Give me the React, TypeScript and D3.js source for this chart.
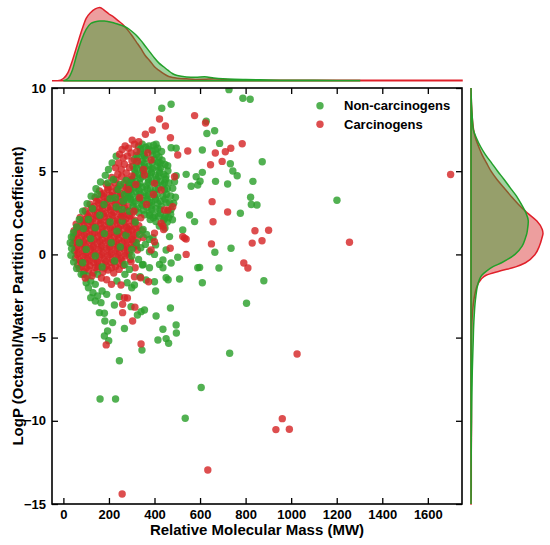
import { useRef, useEffect } from 'react'
import * as d3 from 'd3'

type Point = [number, number] // [MW, LogP]

const xTicks = [0, 200, 400, 600, 800, 1000, 1200, 1400, 1600]
const yTicks = [-15, -10, -5, 0, 5, 10]
const seriesNames = ['Non-carcinogens', 'Carcinogens']

// green: outliers, upper mass, core mix, lower-left group
const nonCarcinogens: Point[] = [
  [727, 9.9], [788, 9.38], [820, 9.32], [432, 8.78], [473, 9.02], [627, 8.0], [664, 7.43], [630, 7.27],
  [686, 6.67], [610, 6.27], [407, 6.62], [495, 6.38], [473, 6.41], [873, 5.57], [733, 5.45], [458, 5.33],
  [744, 5.01], [610, 4.93], [539, 4.81], [763, 4.73], [583, 4.67], [495, 4.73], [668, 4.39], [832, 4.39],
  [600, 4.4], [488, 4.37], [721, 4.23], [590, 4.17], [561, 4.1], [480, 3.97], [822, 3.43], [492, 3.43],
  [1201, 3.25], [484, 3.07], [825, 3.0], [850, 2.97], [777, 2.47], [554, 2.37], [444, 2.17], [576, 1.97],
  [524, 1.47], [466, 1.07], [736, 0.37], [451, 0.26], [665, 0.13], [598, -0.78], [590, -0.8], [683, -0.82],
  [451, -1.4], [460, -1.52], [510, -1.48], [880, -1.58], [610, -1.7], [400, -1.64], [405, -2.2], [804, -2.94],
  [470, -3.22], [407, -3.7], [495, -4.24], [496, -4.72], [437, -4.5], [451, -5.06], [415, -5.14], [462, -5.34],
  [345, -5.75], [730, -5.94], [605, -8.0], [535, -9.85], [268, -4.45], [194, -4.6], [180, -4.9], [199, -5.19],
  [246, -6.39], [161, -8.69], [229, -8.69], [182, -4.0],
  [330, 6.5], [346, 6.62], [361, 6.44], [376, 6.52], [396, 6.56], [414, 6.38],
  [338, 6.2], [353, 6.02], [389, 6.22], [409, 6.0], [431, 6.18], [340, 6.34], [372, 6.3], [404, 6.28],
  [322, 5.95], [356, 5.92], [392, 5.96], [420, 5.86],
  [311, 5.72], [328, 5.82], [346, 5.6], [362, 5.76], [399, 5.7], [416, 5.54], [433, 5.66],
  [320, 5.5], [355, 5.46], [390, 5.52], [425, 5.48],
  [305, 5.3], [323, 5.18], [340, 5.36], [357, 5.24], [375, 5.32], [392, 5.14], [411, 5.3], [428, 5.2], [446, 5.4],
  [312, 5.1], [348, 5.06], [384, 5.12], [420, 5.08],
  [316, 4.9], [333, 4.78], [350, 4.96], [368, 4.84], [387, 4.92], [404, 4.74], [423, 4.9], [441, 4.8], [459, 5.02],
  [310, 4.7], [346, 4.66], [382, 4.72], [418, 4.68], [450, 4.7],
  [301, 4.5], [319, 4.38], [337, 4.56], [373, 4.52], [391, 4.34], [409, 4.5], [427, 4.4], [449, 4.52], [463, 4.3],
  [300, 4.3], [336, 4.26], [372, 4.32], [408, 4.28], [444, 4.3],
  [291, 4.1], [309, 3.98], [327, 4.16], [345, 4.04], [363, 4.12], [381, 3.94], [417, 3.98], [436, 4.16], [456, 3.94],
  [296, 3.9], [332, 3.86], [368, 3.92], [404, 3.88], [444, 3.9],
  [283, 3.7], [301, 3.58], [319, 3.76], [337, 3.64], [355, 3.72], [373, 3.54], [393, 3.7], [411, 3.6], [453, 3.6], [471, 3.52],
  [292, 3.5], [328, 3.46], [364, 3.52], [400, 3.48], [438, 3.5],
  [296, 3.3], [314, 3.18], [332, 3.36], [350, 3.24], [368, 3.32], [387, 3.14], [405, 3.3], [425, 3.2], [446, 3.32], [467, 3.1],
  [306, 3.1], [342, 3.06], [378, 3.12], [414, 3.08], [452, 3.1],
  [306, 2.9], [326, 2.78], [346, 2.96], [366, 2.84], [386, 2.92], [406, 2.74], [429, 2.9], [473, 2.7],
  [316, 2.7], [352, 2.66], [388, 2.72], [424, 2.68], [458, 2.6],
  [331, 2.5], [356, 2.38], [379, 2.5], [401, 2.34], [426, 2.46], [448, 2.3], [471, 2.42],
  [381, 2.1], [406, 1.98], [456, 1.94], [479, 2.08], [421, 1.7], [446, 1.58],
  [85, 2.6], [104, 3.05], [122, 3.5], [143, 3.95], [163, 4.35], [184, 4.75], [70, 2.1], [58, 1.65],
  [44, 1.3], [35, 1.05], [30, 0.7], [36, 0.35], [33, -0.05], [45, -0.45], [58, -0.85], [78, -1.2],
  [150, 3.6], [205, 3.35], [178, 3.0], [128, 2.75], [232, 2.85], [160, 2.35], [110, 2.1], [205, 1.95],
  [258, 2.0], [88, 1.55], [140, 1.6], [180, 1.25], [235, 1.4], [120, 0.95], [275, 1.15], [70, 0.7],
  [210, 0.7], [100, 0.3], [250, 0.45], [140, -0.1], [300, 0.3], [85, -0.5],
  [225, -0.4], [170, -0.75], [270, -0.6], [300, -0.1], [320, 0.7], [335, 1.2], [316, 1.95],
  [290, 2.6], [262, 3.2], [240, 3.9], [220, 4.5], [198, 5.1], [214, 5.5], [232, 5.9], [290, 3.95], [275, 4.45],
  [250, 4.2], [268, 3.6], [228, 3.4], [195, 4.3], [258, 2.7], [280, 3.3],
  [378, 2.35], [395, 2.2], [418, 2.3], [440, 2.05], [462, 2.2], [350, 1.5], [365, 1.2], [393, 1.0],
  [378, 0.9], [405, 0.57], [360, 0.6], [340, 0.4], [378, 0.16], [330, -0.3], [350, -0.6], [378, -0.8],
  [422, -0.6], [437, -0.8], [437, -0.34], [473, -0.52], [502, -0.17], [400, 0.0], [337, -1.34], [363, -1.54],
  [347, -0.64], [290, -0.9], [312, -1.84], [270, -1.2],
  [105, -1.3], [120, -1.6], [140, -1.8], [110, -2.0], [130, -2.3], [150, -2.5], [170, -2.2], [190, -2.4],
  [120, -2.6], [140, -2.8], [165, -2.9], [100, -1.7], [88, -1.2], [150, -1.2], [235, -1.6], [280, -1.7],
  [300, -2.0], [246, -2.54], [224, -3.04], [297, -3.14], [158, -3.5], [180, -3.54], [216, -4.1], [325, -3.64],
  [341, -3.44], [356, -3.34],
]

// red, dense core rows (drawn under the green points)
const carcinogensCore: Point[] = [
  [212, 4.62], [231, 4.48], [256, 4.68], [279, 4.52], [296, 4.4],
  [188, 4.22], [206, 4.08], [226, 4.3], [247, 4.12], [266, 4.28], [287, 4.18],
  [196, 4.0], [236, 3.98], [276, 4.02],
  [158, 3.82], [177, 3.68], [195, 3.9], [215, 3.74], [233, 3.88], [252, 3.66], [271, 3.84],
  [168, 3.6], [204, 3.56], [240, 3.62], [276, 3.58],
  [139, 3.42], [157, 3.28], [177, 3.48], [193, 3.32], [213, 3.52], [229, 3.28], [249, 3.46], [267, 3.3], [285, 3.44],
  [146, 3.2], [182, 3.16], [218, 3.22], [254, 3.18],
  [117, 3.02], [135, 2.88], [155, 3.08], [171, 2.92], [191, 3.12], [207, 2.86], [227, 3.06], [245, 2.92], [263, 3.1], [283, 2.88],
  [124, 2.8], [160, 2.76], [196, 2.82], [232, 2.78], [268, 2.8],
  [96, 2.62], [114, 2.48], [134, 2.68], [150, 2.52], [170, 2.72], [186, 2.48], [206, 2.66], [222, 2.52], [242, 2.72],
  [258, 2.48], [279, 2.62], [301, 2.46],
  [104, 2.4], [140, 2.36], [176, 2.42], [212, 2.38], [248, 2.4], [284, 2.36],
  [74, 2.22], [93, 2.08], [109, 2.26], [129, 2.12], [145, 2.3], [165, 2.08], [181, 2.26], [201, 2.12], [217, 2.32],
  [237, 2.08], [253, 2.26], [273, 2.12], [291, 2.3], [313, 2.06],
  [84, 2.0], [120, 1.96], [156, 2.02], [192, 1.98], [228, 2.0], [264, 1.96], [300, 2.02],
  [56, 1.82], [71, 1.68], [91, 1.86], [107, 1.72], [127, 1.92], [143, 1.68], [163, 1.86], [179, 1.72], [199, 1.92],
  [215, 1.68], [235, 1.86], [251, 1.72], [271, 1.9], [289, 1.68], [311, 1.86], [331, 1.72],
  [62, 1.6], [98, 1.56], [134, 1.62], [170, 1.58], [206, 1.6], [242, 1.56], [278, 1.62], [318, 1.58],
  [47, 1.42], [66, 1.28], [81, 1.46], [101, 1.32], [117, 1.52], [137, 1.28], [153, 1.46], [173, 1.32], [189, 1.52],
  [209, 1.28], [225, 1.46], [245, 1.32], [261, 1.52], [283, 1.28], [301, 1.46], [323, 1.32], [346, 1.42],
  [56, 1.2], [92, 1.16], [128, 1.22], [164, 1.18], [200, 1.2], [236, 1.16], [272, 1.22], [310, 1.18],
  [44, 1.02], [63, 0.88], [79, 1.06], [99, 0.92], [115, 1.12], [135, 0.88], [151, 1.06], [171, 0.92], [187, 1.12],
  [207, 0.88], [223, 1.06], [243, 0.92], [259, 1.12], [281, 0.88], [299, 1.06], [326, 0.92], [351, 1.02],
  [52, 0.8], [88, 0.76], [124, 0.82], [160, 0.78], [196, 0.8], [232, 0.76], [268, 0.82], [308, 0.78],
  [41, 0.62], [61, 0.48], [77, 0.66], [97, 0.52], [113, 0.72], [133, 0.48], [149, 0.66], [169, 0.52], [185, 0.72],
  [205, 0.48], [221, 0.66], [241, 0.52], [257, 0.72], [279, 0.48], [297, 0.62], [321, 0.52],
  [56, 0.4], [92, 0.36], [128, 0.42], [164, 0.38], [200, 0.4], [236, 0.36], [272, 0.42], [306, 0.4],
  [49, 0.22], [67, 0.08], [83, 0.26], [103, 0.12], [119, 0.32], [139, 0.08], [155, 0.26], [175, 0.12], [191, 0.32],
  [211, 0.08], [227, 0.26], [247, 0.12], [265, 0.32], [289, 0.08], [325, 0.26],
  [60, 0.0], [96, -0.04], [132, 0.02], [168, -0.02], [204, 0.0], [240, -0.04], [278, 0.02],
  [53, -0.22], [71, -0.32], [87, -0.12], [107, -0.26], [123, -0.08], [143, -0.32], [159, -0.14], [179, -0.28],
  [195, -0.08], [215, -0.32], [231, -0.14], [253, -0.26], [271, -0.08], [293, -0.3],
  [78, -0.44], [114, -0.4], [150, -0.46], [186, -0.42], [222, -0.44], [258, -0.4],
  [63, -0.62], [81, -0.72], [97, -0.52], [117, -0.68], [133, -0.48], [153, -0.72], [169, -0.54], [189, -0.68],
  [207, -0.48], [229, -0.72], [246, -0.52], [263, -0.66],
  [100, -0.8], [140, -0.78], [180, -0.82], [212, -0.8],
  [70, -0.84], [91, -1.06], [111, -0.94], [131, -1.12], [149, -0.88], [173, -1.06], [196, -0.94], [221, -1.12],
  [245, -0.9], [297, -0.44], [315, -0.8], [312, -1.34],
]

// red, upper cluster and scattered points (drawn over the green points)
const carcinogensSpread: Point[] = [
  [96, -1.42], [126, -1.28], [167, -1.42], [190, -1.52], [211, -1.8], [253, -1.84], [339, -1.4], [374, -1.64],
  [268, -2.6], [281, -2.62], [260, -3.0], [260, -3.5], [304, -4.0], [314, -3.17], [188, -5.44], [341, -5.38],
  [258, 6.3], [271, 6.52], [286, 6.38], [297, 6.1], [247, 6.02], [262, 5.8], [281, 5.92], [301, 5.62],
  [243, 5.5], [268, 5.42], [290, 5.22], [254, 5.1], [276, 4.9], [239, 4.82], [301, 4.72], [229, 5.2],
  [312, 6.62], [322, 6.18], [302, 6.87], [331, 6.77], [360, 7.22], [390, 7.48], [470, 7.01], [422, 8.14],
  [448, 7.72], [576, 8.34], [502, 5.97], [546, 6.21],
  [370, 6.1], [385, 5.67], [356, 4.77], [400, 4.27], [429, 3.87], [444, 2.67], [429, 1.87], [400, 1.28],
  [488, 4.67], [480, 2.87], [459, 2.67], [437, 1.7], [440, 1.5], [524, 1.07], [539, 0.92], [469, 0.37],
  [539, 0.0], [532, 0.98], [385, 0.26], [400, 0.76],
  [318, 4.2], [335, 3.4], [352, 5.1], [310, 2.6], [365, 3.0], [340, 2.2], [325, 5.6], [395, 3.6],
  [288, 1.5], [300, 0.9], [262, 2.3], [285, 3.9],
  [624, 7.9], [785, 6.65], [735, 6.38], [711, 6.17], [667, 6.09], [697, 5.59], [646, 5.39], [653, 3.17],
  [721, 2.55], [657, 1.96], [650, 0.63], [841, 1.42], [901, 1.45], [829, 0.68], [872, 0.82], [1256, 0.73],
  [792, -0.52], [810, -0.82], [1026, -5.99], [961, -9.87], [933, -10.53], [992, -10.51], [1700, 4.8],
  [634, -12.96], [258, -14.4],
]

// marginal densities, relative to the carcinogen peak (null = outside the estimate's support)
const mwGrid = [-50, -25, 0, 20, 40, 60, 80, 100, 120, 140, 160, 180, 200, 220, 240, 260, 280, 300, 320, 340,
  360, 380, 400, 420, 440, 460, 480, 500, 540, 580, 620, 660, 700, 750, 800, 900, 1000, 1100, 1200, 1300,
  1400, 1500, 1600, 1750]
const mwDensityCarc = [0, 0, 0.03, 0.11, 0.28, 0.48, 0.68, 0.85, 0.93, 0.98, 1.0, 0.96, 0.91, 0.87, 0.82, 0.77,
  0.7, 0.62, 0.53, 0.44, 0.34, 0.27, 0.19, 0.14, 0.095, 0.06, 0.045, 0.035, 0.025, 0.018, 0.02, 0.027, 0.018,
  0.01, 0.008, 0.007, 0.006, 0.005, 0.005, 0.005, 0.005, 0.005, 0.005, 0.005]
const mwDensityNon = [null, null, 0, 0.03, 0.15, 0.37, 0.56, 0.7, 0.78, 0.805, 0.815, 0.815, 0.805, 0.79, 0.77, 0.75,
  0.72, 0.675, 0.62, 0.55, 0.47, 0.39, 0.31, 0.24, 0.19, 0.14, 0.095, 0.07, 0.052, 0.048, 0.053, 0.038, 0.027,
  0.019, 0.015, 0.01, 0.006, 0.005, 0.004, 0.002, null, null, null, null]

const logpGrid = [-15, -14, -13, -12, -11, -10, -9, -8, -7, -6, -5, -4.5, -4, -3.5, -3, -2.5, -2, -1.5, -1.25, -1,
  -0.75, -0.5, 0, 0.5, 1, 1.25, 1.5, 2, 2.5, 3, 3.5, 4, 4.5, 5, 5.5, 6, 6.5, 7, 7.5, 8, 8.5, 9, 9.5, 10]
const logpDensityCarc = [0.001, 0.004, 0.004, 0.004, 0.006, 0.007, 0.006, 0.004, 0.006, 0.007, 0.008, 0.011,
  0.014, 0.021, 0.032, 0.049, 0.076, 0.139, 0.21, 0.4, 0.62, 0.757, 0.889, 0.95, 0.986, 1.0, 0.99, 0.915, 0.78,
  0.66, 0.556, 0.458, 0.361, 0.278, 0.215, 0.153, 0.104, 0.062, 0.036, 0.022, 0.014, 0.007, 0.003, 0]
const logpDensityNon = [0, 0.001, 0.001, 0.003, 0.004, 0.007, 0.01, 0.014, 0.018, 0.025, 0.032, 0.035, 0.04,
  0.047, 0.055, 0.068, 0.085, 0.118, 0.15, 0.215, 0.3, 0.425, 0.611, 0.71, 0.757, 0.775, 0.785, 0.796, 0.762,
  0.7, 0.632, 0.545, 0.46, 0.37, 0.285, 0.2, 0.13, 0.075, 0.032, 0.021, 0.014, 0.007, 0.003, 0]

const GREEN = '#2ca02c'
const RED = '#d62728'
const FONT = '"Liberation Sans", Arial, Helvetica, sans-serif'

const App = () => {
  const ref = useRef<SVGSVGElement>(null)

  useEffect(() => {
    if (!ref.current) return
    const svg = d3.select(ref.current)
    svg.selectAll('*').remove()

    const frame = { left: 52, right: 462, top: 88, bottom: 504 }
    const x = d3.scaleLinear().domain([-50, 1750]).range([frame.left, frame.right])
    const y = d3.scaleLinear().domain([-15, 10]).range([frame.bottom, frame.top])
    const topDens = d3.scaleLinear().domain([0, 1]).range([80.7, 7.4])
    const sideDens = d3.scaleLinear().domain([0, 1]).range([471, 543])

    const topArea = d3
      .area<number | null>()
      .defined(d => d !== null)
      .x((_, i) => x(mwGrid[i]))
      .y0(topDens(0))
      .y1(d => topDens(d as number))
      .curve(d3.curveMonotoneX)
    const sideArea = d3
      .area<number>()
      .y((_, i) => y(logpGrid[i]))
      .x0(sideDens(0))
      .x1(d => sideDens(d))
      .curve(d3.curveMonotoneY)

    // carcinogens underneath, non-carcinogens on top (gives the olive overlap)
    const kdes = [
      { top: mwDensityCarc, side: logpDensityCarc, fill: RED, line: '#e0202a' },
      { top: mwDensityNon, side: logpDensityNon, fill: GREEN, line: '#22a02a' },
    ]
    kdes.forEach(k => {
      svg.append('path').attr('d', topArea(k.top)).attr('fill', k.fill).attr('fill-opacity', 0.45)
        .attr('stroke', k.line).attr('stroke-width', 1.5)
      svg.append('path').attr('d', sideArea(k.side)).attr('fill', k.fill).attr('fill-opacity', 0.45)
        .attr('stroke', k.line).attr('stroke-width', 1.5)
    })

    svg.append('defs').append('clipPath').attr('id', 'plot-clip').append('rect')
      .attr('x', frame.left).attr('y', frame.top)
      .attr('width', frame.right - frame.left).attr('height', frame.bottom - frame.top)

    const dots = svg.append('g').attr('clip-path', 'url(#plot-clip)')
    const layers = [
      { data: carcinogensCore, color: RED },
      { data: nonCarcinogens, color: GREEN },
      { data: carcinogensSpread, color: RED },
    ]
    layers.forEach(s => {
      dots.append('g').selectAll('circle')
        .data(s.data)
        .enter()
        .append('circle')
        .attr('cx', d => x(d[0]))
        .attr('cy', d => y(d[1]))
        .attr('r', 3.7)
        .attr('fill', s.color)
        .attr('fill-opacity', 0.82)
    })

    const styleAxis = (g: d3.Selection<SVGGElement, unknown, null, undefined>) => {
      g.select('.domain').remove()
      g.attr('font-family', FONT).attr('font-size', 13).attr('font-weight', 'bold')
      g.selectAll('text').attr('fill', '#000')
      g.selectAll('line').attr('stroke', '#000').attr('stroke-width', 1.3)
    }

    svg.append('g').attr('transform', `translate(0,${frame.bottom})`)
      .call(d3.axisBottom(x).tickValues(xTicks).tickFormat(d3.format('d')).tickSizeInner(-6).tickSizeOuter(0).tickPadding(6))
      .call(styleAxis)
    svg.append('g').attr('transform', `translate(0,${frame.top})`)
      .call(d3.axisTop(x).tickValues(xTicks).tickSizeInner(-6).tickSizeOuter(0).tickFormat(() => ''))
      .call(styleAxis)
    svg.append('g').attr('transform', `translate(${frame.left},0)`)
      .call(d3.axisLeft(y).tickValues(yTicks).tickSizeInner(-6).tickSizeOuter(0).tickPadding(6))
      .call(styleAxis)
    svg.append('g').attr('transform', `translate(${frame.right},0)`)
      .call(d3.axisRight(y).tickValues(yTicks).tickSizeInner(-6).tickSizeOuter(0).tickFormat(() => ''))
      .call(styleAxis)

    svg.append('rect')
      .attr('x', frame.left).attr('y', frame.top)
      .attr('width', frame.right - frame.left).attr('height', frame.bottom - frame.top)
      .attr('fill', 'none').attr('stroke', '#000').attr('stroke-width', 1.6)

    svg.append('text')
      .attr('x', (frame.left + frame.right) / 2).attr('y', 535)
      .attr('text-anchor', 'middle')
      .attr('font-family', FONT).attr('font-size', 15).attr('font-weight', 'bold')
      .text('Relative Molecular Mass (MW)')
    svg.append('text')
      .attr('transform', `translate(23,${(frame.top + frame.bottom) / 2}) rotate(-90)`)
      .attr('text-anchor', 'middle')
      .attr('font-family', FONT).attr('font-size', 15).attr('font-weight', 'bold')
      .text('LogP (Octanol/Water Partition Coefficient)')

    const legend = svg.append('g')
    ;[GREEN, RED].forEach((c, i) => {
      const ly = 105.7 + i * 18.6
      legend.append('circle').attr('cx', 320).attr('cy', ly).attr('r', 3.7)
        .attr('fill', c).attr('fill-opacity', 0.82)
      legend.append('text').attr('x', 344).attr('y', ly).attr('dy', '0.35em')
        .attr('font-family', FONT).attr('font-size', 13).attr('font-weight', 'bold')
        .text(seriesNames[i])
    })
  }, [])

  return (
    <svg
      ref={ref}
      width={550}
      height={545}
      style={{ position: 'absolute', left: 0, top: 0, display: 'block', background: '#fff' }}
    />
  )
}

export default App
